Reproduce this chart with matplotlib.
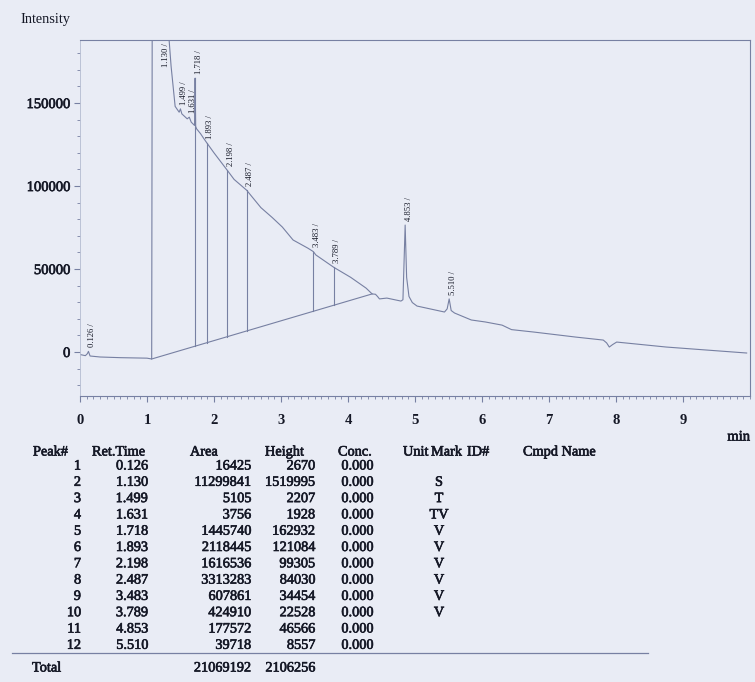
import matplotlib
matplotlib.use("Agg")
import matplotlib.pyplot as plt
import matplotlib.patheffects as pe
from matplotlib.ticker import MultipleLocator
import numpy as np

plt.rcParams['font.family'] = ['Liberation Serif', 'DejaVu Serif']

# peak table
peak_no = [1, 2, 3, 4, 5, 6, 7, 8, 9, 10, 11, 12]
ret_time = [0.126, 1.130, 1.499, 1.631, 1.718, 1.893, 2.198, 2.487,
            3.483, 3.789, 4.853, 5.510]
area = [16425, 11299841, 5105, 3756, 1445740, 2118445, 1616536, 3313283,
        607861, 424910, 177572, 39718]
height = [2670, 1519995, 2207, 1928, 162932, 121084, 99305, 84030,
          34454, 22528, 46566, 8557]
conc = [0.0] * 12
mark = ['', 'S', 'T', 'TV', 'V', 'V', 'V', 'V', 'V', 'V', '', '']

# detector trace (min, intensity)
trace_t = [0.00, 0.08, 0.11, 0.126, 0.15, 0.30, 0.60, 1.00, 1.07, 1.08,
           1.25, 1.33, 1.36, 1.42, 1.48, 1.499, 1.52, 1.60, 1.631, 1.66,
           1.71, 1.718, 1.726, 1.74, 1.80, 1.85, 1.893, 2.00, 2.198, 2.30,
           2.487, 2.70, 2.87, 3.02, 3.18, 3.40, 3.483, 3.52, 3.789, 4.04,
           4.27, 4.36, 4.41, 4.44, 4.47, 4.58, 4.79, 4.82, 4.853, 4.875,
           4.91, 4.96, 5.03, 5.44, 5.48, 5.510, 5.54, 5.59, 5.84, 6.05,
           6.30, 6.44, 6.78, 7.40, 7.81, 7.86, 7.90, 7.95, 8.01, 8.75, 9.95]
trace_i = [-1500, -2200, -1000, 400, -2400, -3000, -3400, -3700, -4200, 260000,
           215000, 188000, 172000, 148000, 144500, 146500, 143500, 140500, 141500, 138500,
           136500, 165000, 136000, 134500, 131500, 128500, 126000, 120000, 109500, 104000,
           97500, 87000, 81000, 75300, 67500, 62600, 60500, 58500, 51000, 45000,
           38500, 35000, 34800, 33500, 32000, 32500, 30700, 31500, 76500, 45000,
           33500, 29800, 27700, 24100, 26000, 32000, 25000, 23500, 19300, 18100,
           16200, 13500, 12000, 9000, 7200, 5500, 3000, 4500, 6000, 3000, -600]

# integration baseline and drop lines
base_t = [1.07, 4.36]
base_i = [-4200, 35000]
drop_rt = [1.718, 1.893, 2.198, 2.487, 3.483, 3.789]

paper = '#e9ecf5'
ink = '#151826'
pen = '#7780a2'
heavy = [pe.withStroke(linewidth=0.45, foreground=ink)]

fig = plt.figure(figsize=(7.55, 6.82), dpi=100, facecolor=paper)
ax = fig.add_axes([80 / 755, 1 - 396 / 682, 670 / 755, 356 / 682])
ax.set_facecolor(paper)

ax.plot(trace_t, trace_i, color=pen, lw=0.8)
ax.plot(base_t, base_i, color=pen, lw=0.8)
for rt in drop_rt:
    b = np.interp(rt, base_t, base_i)
    top = np.interp(rt, trace_t, trace_i)
    ax.plot([rt, rt], [b, top], color=pen, lw=0.8)

# peak labels above each apex
for i, rt in enumerate(ret_time):
    txt = '%.3f /' % rt
    if rt == 1.130:
        ax.text(1.29, 186000, txt, rotation=90, ha='center', va='top',
                fontsize=6.2, color=ink)
        continue
    y = np.interp(rt, trace_t, trace_i)
    ax.annotate(txt, (rt, y), xytext=(2.5, 3), textcoords='offset points',
                rotation=90, ha='center', va='bottom', fontsize=6.2, color=ink)

ax.set_xlim(0, 10)
ax.set_ylim(-26500, 188000)
ax.set_xticks(range(10))
ax.xaxis.set_minor_locator(MultipleLocator(0.1))
ax.set_yticks([0, 50000, 100000, 150000])
ax.yaxis.set_minor_locator(MultipleLocator(10000))
ax.tick_params(axis='x', which='major', direction='out', length=4, width=0.8,
               color=pen, labelsize=10.5, labelcolor=ink, pad=9)
ax.tick_params(axis='y', which='major', direction='out', length=4, width=0.8,
               color=pen, labelsize=10.5, labelcolor=ink, pad=3)
ax.tick_params(which='minor', direction='out', length=2, width=0.6, color=pen)
for lab in ax.get_xticklabels():
    lab.set_fontweight('bold')
for lab in ax.get_yticklabels():
    lab.set_path_effects(heavy)
for side in ['top', 'right', 'bottom']:
    ax.spines[side].set_color(pen)
    ax.spines[side].set_linewidth(0.8)
ax.spines['left'].set_color('#b4bbd0')
ax.spines['left'].set_linewidth(0.6)

fig.text(20 / 755, 1 - 20 / 682, 'Intensity', fontsize=10.3, color=ink,
         va='center', ha='left')
fig.text(750 / 755, 1 - 437 / 682, 'min', fontsize=10.5, color=ink,
         va='center', ha='right', path_effects=heavy)


# result table below the chromatogram
def fx(px):
    return px / 755


def fy(py):
    return 1 - py / 682


def cell(px, py, s, ha='left'):
    fig.text(fx(px), fy(py), s, fontsize=10.3, color=ink, va='center', ha=ha,
             path_effects=heavy)


head_y = 452
cell(33, head_y, 'Peak#')
cell(92, head_y, 'Ret.Time')
cell(190, head_y, 'Area')
cell(265, head_y, 'Height')
cell(338, head_y, 'Conc.')
cell(403, head_y, 'Unit')
cell(431, head_y, 'Mark')
cell(467, head_y, 'ID#')
cell(523, head_y, 'Cmpd Name')

row0, step = 466, 16.3
for k in range(len(peak_no)):
    y = row0 + k * step
    cell(81, y, str(peak_no[k]), 'right')
    cell(148, y, '%.3f' % ret_time[k], 'right')
    cell(251, y, str(area[k]), 'right')
    cell(315, y, str(height[k]), 'right')
    cell(373, y, '%.3f' % conc[k], 'right')
    if mark[k]:
        cell(439, y, mark[k], 'center')

line_y = fy(653)
fig.add_artist(plt.Line2D([fx(12), fx(648)], [line_y, line_y], color=pen, lw=0.9))
cell(32, 668, 'Total')
cell(251, 668, str(sum(area)), 'right')
cell(315, 668, str(sum(height)), 'right')

fig.savefig('out.png', dpi=100, facecolor=paper)
